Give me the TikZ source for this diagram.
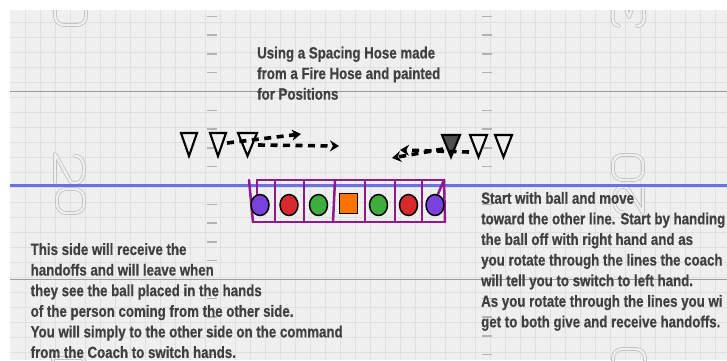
\documentclass[tikz,border=0pt]{standalone}
\usepackage{fontspec}
\newfontfamily\labelfont[FakeStretch=0.82,FakeBold=0.6]{Liberation Sans}
\usetikzlibrary{shapes.geometric,arrows.meta}
\definecolor{fieldbg}{HTML}{EFEFEF}
\definecolor{gridc}{HTML}{E0E0E0}
\definecolor{yardc}{HTML}{9A9A9A}
\definecolor{hashc}{HTML}{B3B3B3}
\definecolor{numc}{HTML}{BDBDBD}
\definecolor{bluel}{HTML}{6E6EEB}
\definecolor{hosec}{HTML}{8E1A8E}
\definecolor{txtc}{HTML}{404040}
\definecolor{ppurple}{HTML}{7A42DC}
\definecolor{pred}{HTML}{D82A2A}
\definecolor{pgreen}{HTML}{3DAE3D}
\definecolor{porange}{HTML}{FF7400}
\definecolor{darktri}{HTML}{4E4E4E}
\begin{document}
\begin{tikzpicture}[x=1pt,y=-1pt,
  yardnum/.style={draw=numc,double=fieldbg,double distance=2.4pt,line width=0.7pt,line cap=round,line join=round},
  gridline/.style={gridc,line width=0.8pt},
  hashmark/.style={hashc,line width=1.4pt},
  yardline/.style={yardc,line width=1.5pt},
  hoseline/.style={hosec,line width=2.5pt,line cap=round,line join=round},
  player/.style={ellipse,draw=black,line width=1.5pt,minimum width=18pt,minimum height=21pt,inner sep=0pt},
  ballplayer/.style={rectangle,draw=black,line width=1.5pt,minimum width=18pt,minimum height=20pt,inner sep=0pt,fill=porange},
  tri/.style={draw=black,line width=2.1pt,line join=miter,fill=fieldbg},
  runarrow/.style={black,line width=3.6pt,dash pattern=on 7pt off 5.5pt,-{Stealth[length=9pt,width=11pt]}},
  note/.style={anchor=north west,inner sep=0pt,align=left,text=txtc,font=\labelfont\bfseries\fontsize{16.2}{20.6}\selectfont}]
\clip (0,0) rectangle (727,360);
\fill[white] (0,0) rectangle (727,360);
\begin{scope}
  \clip (10,10) rectangle (727,360);
  \fill[fieldbg] (10,10) rectangle (727,360);
  \foreach \x in {25,40,...,725} \draw[gridline] (\x,10) -- (\x,360);
  \foreach \y in {22,37,...,360} \draw[gridline] (10,\y) -- (727,\y);
  % yard numbers
  \draw[yardnum,rounded corners=9pt] (55,-2) rectangle (86,25);
  \draw[yardnum] (55,183) -- (55,154) -- (69.5,180) .. controls (72,183) .. (76,183) .. controls (82,183) and (84,176) .. (84,168.5) .. controls (84,161) and (81,156) .. (75,155.5);
  \draw[yardnum,rounded corners=9pt] (57,189) rectangle (84,213);
  \draw[yardnum] (53,363) -- (53,358) -- (82,358) -- (85,362);
  \draw[yardnum] (614,8) .. controls (611,18) and (613,26) .. (619,26);
  \draw[yardnum] (643,8) .. controls (646,18) and (644,26) .. (637,26);
  \draw[yardnum] (626,9) -- (629,17) -- (632,9);
  \draw[yardnum,rounded corners=9pt] (613,155) rectangle (643,180);
  \draw[yardnum] (643,187) -- (643,213) -- (628.5,189.6) .. controls (626,187) .. (622,187) .. controls (617,187) and (614,193) .. (614,200) .. controls (614,207) and (617,212) .. (623,212.5);
  \draw[yardnum,rounded corners=9pt] (613,349) rectangle (645,378);
  % hash marks
  \foreach \y in {16.3,35.1,53.9,72.7,110.3,129.1,147.9,166.7,204.3,223.1,241.9,260.7,298.3,317.1,335.9,354.7} {
    \draw[hashmark] (207,\y) -- (217,\y);
    \draw[hashmark] (482,\y) -- (492,\y);
  }
  \draw[yardline] (10,91.5) -- (727,91.5);
  \draw[yardline] (10,279.5) -- (727,279.5);
  \draw[bluel,line width=2.6pt] (10,185.5) -- (727,185.5);
\end{scope}
% texts
\node[note] (toptext) at (257,46.5) {Using a Spacing Hose made\\from a Fire Hose and painted\\for Positions};
\node[note] (lefttext) at (30.5,243) {This side will receive the\\handoffs and will leave when\\they see the ball placed in the hands\\of the person coming from the other side.\\You will simply to the other side on the command\\from the Coach to switch hands.};
\node[note] (righttext) at (481,191.8) {Start with ball and move\\toward the other line. Start by handing\\the ball off with right hand and as\\you rotate through the lines the coach\\will tell you to switch to left hand.\\As you rotate through the lines you wi\\get to both give and receive handoffs.};
% triangles
\draw[tri] (181,133) -- (197,133) -- (189,156) -- cycle;
\draw[tri] (210,133) -- (226,133) -- (218,156) -- cycle;
\draw[tri] (238,133) -- (257,133) -- (247.5,156) -- cycle;
\draw[tri,fill=darktri] (442,135) -- (460,135) -- (451,157) -- cycle;
\draw[tri] (470,135) -- (487,135) -- (478.5,157) -- cycle;
\draw[tri] (495,135) -- (512,135) -- (503.5,157) -- cycle;
% run arrows
\coordinate (a1s) at (227,143);
\coordinate (a1e) at (301,134);
\coordinate (a2s) at (258,145);
\coordinate (a2e) at (339,146);
\coordinate (b1s) at (469,152);
\coordinate (b1e) at (400,150);
\coordinate (b2s) at (443,149);
\coordinate (b2e) at (392,158);
\draw[runarrow] (a1s) -- (a1e);
\draw[runarrow] (a2s) -- (a2e);
\draw[runarrow] (b1s) -- (b1e);
\draw[runarrow] (b2s) -- (b2e);
% spacing hose
\draw[hoseline] (257,180) -- (444,180);
\draw[hoseline] (253,222) -- (445,222);
\draw[hoseline] (249,180) -- (253,222);
\draw[hoseline] (257,180) -- (257,195);
\draw[hoseline] (444,180) -- (445,222);
\draw[hoseline] (444,180) -- (438,194);
\foreach \x in {275,304,365,395,422} \draw[hoseline] (\x,180) -- (\x,222);
\draw[hoseline] (335,180) -- (333,222);
% players
\node[player,fill=ppurple] (pl1) at (260,205) {};
\node[player,fill=pred] (pl2) at (289,205) {};
\node[player,fill=pgreen] (pl3) at (318.5,205) {};
\node[ballplayer] (pl4) at (348.5,203.5) {};
\node[player,fill=pgreen] (pl5) at (378.5,205) {};
\node[player,fill=pred] (pl6) at (408.5,205) {};
\node[player,fill=ppurple] (pl7) at (435,205) {};
\end{tikzpicture}
\end{document}
